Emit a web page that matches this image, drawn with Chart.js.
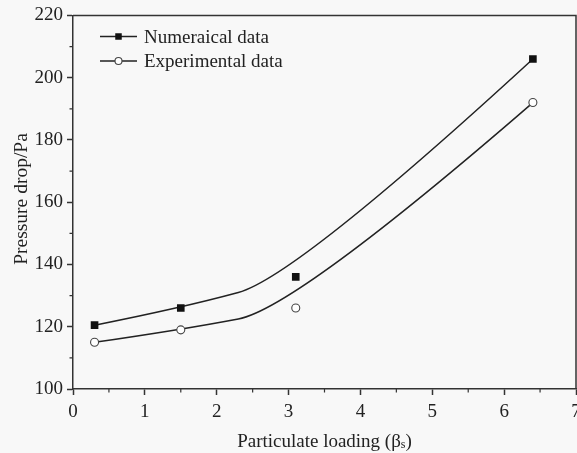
<!DOCTYPE html>
<html>
<head>
<meta charset="utf-8">
<script src="https://cdn.jsdelivr.net/npm/chart.js@4"></script>
<style>
  html, body { margin: 0; padding: 0; background: #f8f8f8; overflow: hidden; }
  #wrap { position: relative; width: 577px; height: 453px; overflow: hidden; }
  #c { display: block; }
</style>
</head>
<body>
<div id="wrap"><canvas id="c" width="600" height="453"></canvas></div>
<script>
// Particulate loading (x) and pressure drop (Pa) for both series
const loading = [0.3, 1.5, 3.1, 6.4];
const numericalDrop = [120.5, 126, 136, 206];
const experimentalDrop = [115, 119, 126, 192];

// Axis ticks
const xTicks = [0, 1, 2, 3, 4, 5, 6, 7];
const yTicks = [100, 120, 140, 160, 180, 200, 220];
const xMinorTicks = [0.5, 1.5, 2.5, 3.5, 4.5, 5.5, 6.5];
const yMinorTicks = [110, 130, 150, 170, 190, 210];

// Texts
const seriesNames = ['Numeraical data', 'Experimental data'];
const xTitleMain = 'Particulate loading (β';
const xTitleSub = 's';
const xTitleEnd = ')';
const yTitle = 'Pressure drop/Pa';

const FONT = '"Liberation Serif", "Times New Roman", serif';
const INK = '#222';
const AXIS = '#333';

// Quadratic clamped B-spline using the marker positions as control points
function traceBSpline(ctx, pts) {
  const n = pts.length;
  if (n < 2) return;
  ctx.moveTo(pts[0].x, pts[0].y);
  if (n === 2) { ctx.lineTo(pts[1].x, pts[1].y); return; }
  for (let k = 1; k <= n - 2; k++) {
    const c = pts[k];
    const end = (k === n - 2) ? pts[n - 1]
      : { x: (pts[k].x + pts[k + 1].x) / 2, y: (pts[k].y + pts[k + 1].y) / 2 };
    ctx.quadraticCurveTo(c.x, c.y, end.x, end.y);
  }
}

function drawMarker(ctx, style, x, y, size) {
  ctx.save();
  if (style === 'rect') {
    ctx.fillStyle = '#111';
    ctx.fillRect(x - size / 2, y - size / 2, size, size);
  } else {
    ctx.beginPath();
    ctx.arc(x, y, size / 2, 0, Math.PI * 2);
    ctx.fillStyle = '#fff';
    ctx.fill();
    ctx.lineWidth = 1.1;
    ctx.strokeStyle = '#444';
    ctx.stroke();
  }
  ctx.restore();
}

const curvePlugin = {
  id: 'bsplineCurves',
  beforeDatasetsDraw(chart) {
    const ctx = chart.ctx;
    ctx.save();
    ctx.strokeStyle = INK;
    ctx.lineWidth = 1.5;
    ctx.lineJoin = 'round';
    chart.data.datasets.forEach((ds, i) => {
      const meta = chart.getDatasetMeta(i);
      const pts = meta.data.map(p => ({ x: p.x, y: p.y }));
      ctx.beginPath();
      traceBSpline(ctx, pts);
      ctx.stroke();
    });
    ctx.restore();
  }
};

const decorPlugin = {
  id: 'frameAndLabels',
  afterDraw(chart) {
    const ctx = chart.ctx;
    const a = chart.chartArea;
    const xs = chart.scales.x, ys = chart.scales.y;
    ctx.save();

    // top and right frame lines
    ctx.strokeStyle = AXIS;
    ctx.lineWidth = 1.5;
    ctx.beginPath();
    ctx.moveTo(a.left, a.top);
    ctx.lineTo(a.right, a.top);
    ctx.lineTo(a.right, a.bottom);
    ctx.stroke();

    // minor ticks
    ctx.lineWidth = 1.2;
    ctx.beginPath();
    xMinorTicks.forEach(v => {
      const px = xs.getPixelForValue(v);
      ctx.moveTo(px, a.bottom);
      ctx.lineTo(px, a.bottom + 3.5);
    });
    yMinorTicks.forEach(v => {
      const py = ys.getPixelForValue(v);
      ctx.moveTo(a.left, py);
      ctx.lineTo(a.left - 3.5, py);
    });
    ctx.stroke();

    // legend
    const styles = ['rect', 'circle'];
    const sizes = [6.5, 7];
    seriesNames.forEach((name, i) => {
      const y = 36.5 + i * 24.5;
      ctx.strokeStyle = INK;
      ctx.lineWidth = 1.5;
      ctx.beginPath();
      ctx.moveTo(100, y);
      ctx.lineTo(137, y);
      ctx.stroke();
      drawMarker(ctx, styles[i], 118.5, y, sizes[i]);
      ctx.fillStyle = INK;
      ctx.font = '19px ' + FONT;
      ctx.textBaseline = 'alphabetic';
      ctx.textAlign = 'left';
      ctx.fillText(name, 144, y + 6);
    });

    // x axis title with subscript
    ctx.fillStyle = INK;
    ctx.textBaseline = 'alphabetic';
    ctx.textAlign = 'left';
    const big = '19px ' + FONT, small = '12px ' + FONT;
    ctx.font = big;
    const w1 = ctx.measureText(xTitleMain).width;
    const w3 = ctx.measureText(xTitleEnd).width;
    ctx.font = small;
    const w2 = ctx.measureText(xTitleSub).width;
    const total = w1 + w2 + w3;
    let tx = (a.left + a.right) / 2 - total / 2;
    const tb = 447;
    ctx.font = big;
    ctx.fillText(xTitleMain, tx, tb);
    ctx.font = small;
    ctx.fillText(xTitleSub, tx + w1, tb + 1);
    ctx.font = big;
    ctx.fillText(xTitleEnd, tx + w1 + w2, tb);

    // y axis title
    ctx.save();
    ctx.translate(27, 199);
    ctx.rotate(-Math.PI / 2);
    ctx.textAlign = 'center';
    ctx.font = '19.5px ' + FONT;
    ctx.fillText(yTitle, 0, 0);
    ctx.restore();

    ctx.restore();
  }
};

const tickFont = { family: FONT, size: 19 };

new Chart(document.getElementById('c'), {
  type: 'scatter',
  data: {
    datasets: [
      {
        label: seriesNames[0],
        data: loading.map((x, i) => ({ x, y: numericalDrop[i] })),
        pointStyle: 'rect',
        pointRadius: 5.4,
        backgroundColor: '#111',
        borderColor: '#111',
        borderWidth: 0,
        showLine: false
      },
      {
        label: seriesNames[1],
        data: loading.map((x, i) => ({ x, y: experimentalDrop[i] })),
        pointStyle: 'circle',
        pointRadius: 4,
        backgroundColor: '#fff',
        borderColor: '#444',
        borderWidth: 1.1,
        showLine: false
      }
    ]
  },
  options: {
    responsive: false,
    devicePixelRatio: 1,
    animation: false,
    layout: { padding: { left: 0, top: 14, right: 24, bottom: 0 } },
    plugins: { legend: { display: false }, tooltip: { enabled: false } },
    scales: {
      x: {
        type: 'linear',
        min: 0, max: 7,
        afterBuildTicks: s => { s.ticks = xTicks.map(v => ({ value: v })); },
        afterFit: s => { s.height = 64; },
        ticks: { font: tickFont, color: INK, padding: 6, maxRotation: 0, autoSkip: false },
        grid: { drawOnChartArea: false, drawTicks: true, tickLength: 6, tickColor: AXIS, tickWidth: 1.5 },
        border: { display: true, color: AXIS, width: 1.5 },
        title: { display: false }
      },
      y: {
        type: 'linear',
        min: 100, max: 220,
        afterBuildTicks: s => { s.ticks = yTicks.map(v => ({ value: v })); },
        afterFit: s => { s.width = 73; },
        ticks: { font: tickFont, color: INK, padding: 4, autoSkip: false },
        grid: { drawOnChartArea: false, drawTicks: true, tickLength: 6, tickColor: AXIS, tickWidth: 1.5 },
        border: { display: true, color: AXIS, width: 1.5 },
        title: { display: false }
      }
    }
  },
  plugins: [curvePlugin, decorPlugin]
});
</script>
</body>
</html>
